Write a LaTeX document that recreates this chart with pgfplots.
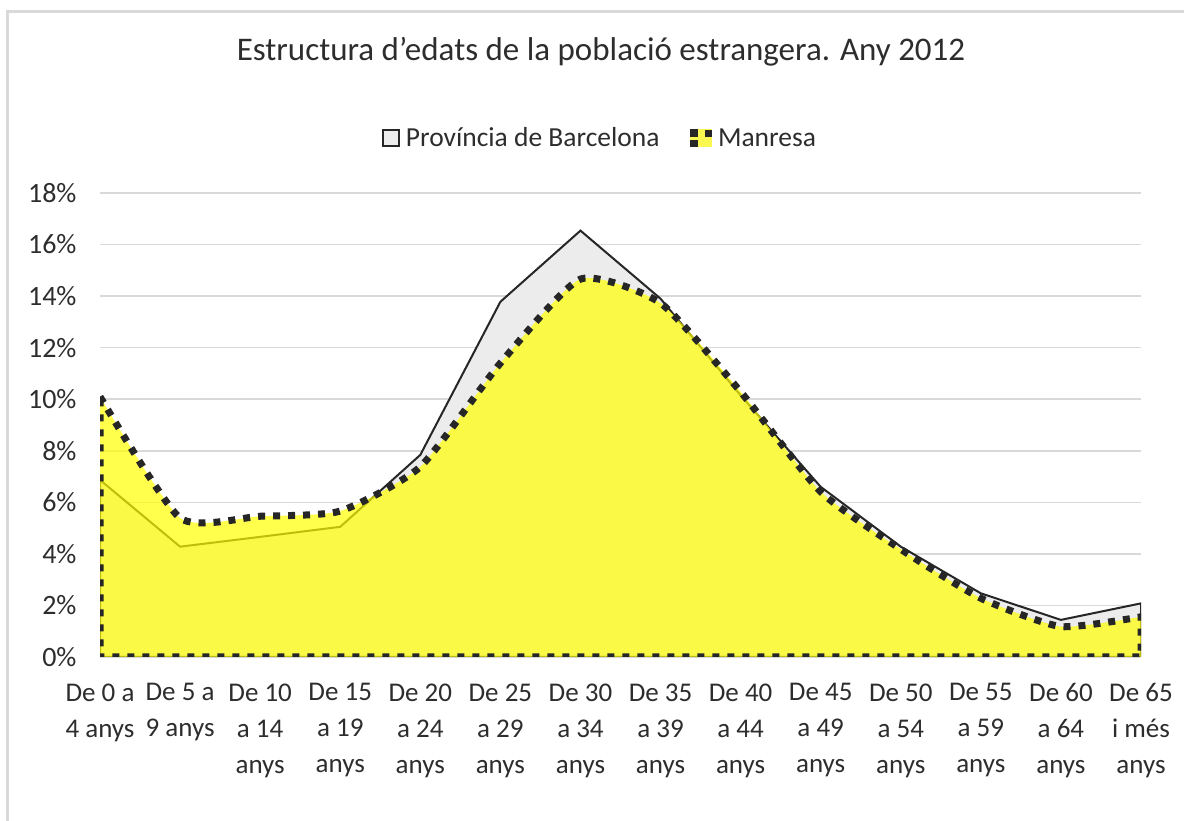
\documentclass[border=0pt]{standalone}
\usepackage{fontspec}
\setmainfont{Carlito}
\usepackage{pgfplots}
\pgfplotsset{compat=1.18}
\definecolor{gridgray}{RGB}{217,217,217}
\definecolor{areagray}{RGB}{236,236,236}
\definecolor{darkline}{RGB}{38,38,38}
\definecolor{txt}{RGB}{45,45,45}
\definecolor{ylw}{RGB}{255,255,0}
\definecolor{ylwleg}{RGB}{250,248,80}
\begin{document}
\begin{tikzpicture}
\path (0pt,0pt) rectangle (1184pt,821pt);
\draw[gridgray, line width=3pt] (7pt,0pt) -- (7pt,809pt) -- (1184pt,809pt);
\node[txt, font=\fontsize{33}{38}\selectfont] at (601pt,769pt) {Estructura d'edats de la població estrangera. Any 2012};
\begin{axis}[
  at={(100pt,164pt)}, anchor=south west,
  scale only axis, width=1041pt, height=464pt,
  xmin=0, xmax=13, ymin=0, ymax=18,
  xtick={0,...,13},
  xticklabels={{De 0 a\\4 anys},{De 5 a\\9 anys},{De 10\\a 14\\anys},{De 15\\a 19\\anys},{De 20\\a 24\\anys},{De 25\\a 29\\anys},{De 30\\a 34\\anys},{De 35\\a 39\\anys},{De 40\\a 44\\anys},{De 45\\a 49\\anys},{De 50\\a 54\\anys},{De 55\\a 59\\anys},{De 60\\a 64\\anys},{De 65\\i més\\anys}},
  ytick={0,2,...,18},
  yticklabels={0\%,2\%,4\%,6\%,8\%,10\%,12\%,14\%,16\%,18\%},
  major tick length=0pt,
  axis x line=bottom, axis y line=left,
  axis line style={-},
  x axis line style={draw=gridgray, line width=1.5pt},
  y axis line style={draw=none},
  ymajorgrids, grid style={gridgray, line width=1.5pt},
  xticklabel style={txt, align=center, font=\fontsize{27}{36}\selectfont, yshift=-23pt},
  yticklabel style={txt, font=\fontsize{28}{30}\selectfont, xshift=-20pt},
  legend style={at={(0.4803,1.1185)}, anchor=center, draw=none, fill=none,
    legend columns=2, font=\fontsize{27.5}{30}\selectfont, text=txt,
    /tikz/every even column/.append style={column sep=28pt}},
  legend cell align=left,
]
\addplot[draw=darkline, line width=2pt, fill=areagray,
  legend image code/.code={\draw[darkline, line width=1.8pt, fill=areagray] (0pt,-8pt) rectangle (16pt,8pt); \path (20pt,0pt);}]
  coordinates {(0,6.87) (1,4.28) (2,4.66) (3,5.05) (4,7.84) (5,13.78) (6,16.54) (7,13.9) (8,10.15) (9,6.6) (10,4.28) (11,2.47) (12,1.44) (13,2.08)} \closedcycle;
\addlegendentry{Província de Barcelona}
\addplot[smooth, tension=0.35, draw=darkline, line width=7pt, dash pattern=on 7pt off 8pt, fill=ylw, fill opacity=0.7, draw opacity=1,
  legend image code/.code={%
    \path[draw=none, fill=ylwleg, fill opacity=1, solid] (0pt,-9pt) rectangle (22pt,9pt);
    \path[draw=none, fill=darkline, fill opacity=1, solid] (0pt,1pt) rectangle (8pt,9pt);
    \path[draw=none, fill=darkline, fill opacity=1, solid] (15pt,1pt) rectangle (22pt,8pt);
    \path[draw=none, fill=darkline, fill opacity=1, solid] (0pt,-9pt) rectangle (8pt,-2pt);
    \path (23pt,0pt);}]
  coordinates {(0,10.1) (1,5.39) (2,5.46) (3,5.66) (4,7.38) (5,11.4) (6,14.66) (7,13.73) (8,10.29) (9,6.41) (10,4.18) (11,2.28) (12,1.18) (13,1.56)} \closedcycle;
\addlegendentry{Manresa}
\end{axis}
\pgfresetboundingbox
\path (0pt,0pt) rectangle (1184pt,821pt);
\end{tikzpicture}
\end{document}
